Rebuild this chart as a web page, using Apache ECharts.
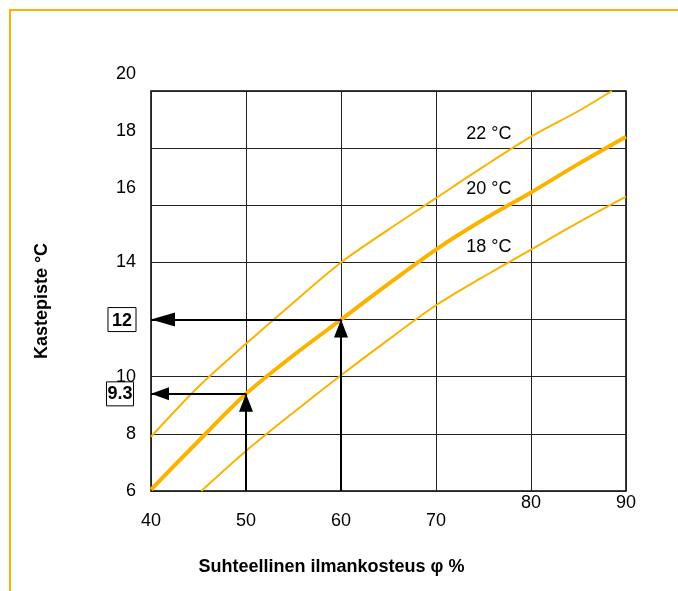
<!DOCTYPE html>
<html>
<head>
<meta charset="utf-8">
<script src="https://cdn.jsdelivr.net/npm/echarts@6/dist/echarts.min.js"></script>
<style>
  html, body { margin: 0; padding: 0; background: #fff; }
  #main { width: 678px; height: 591px; }
</style>
</head>
<body>
<div id="main"></div>
<script>
// relative humidity (%) -> dew point (°C) for three air temperatures
var rh = [40, 45, 50, 55, 60, 65, 70, 75, 80, 85, 90];
var rh22 = [40, 45, 50, 55, 60, 65, 70, 75, 80, 85, 88.5];
var rh18 = [45.3, 50, 55, 60, 65, 70, 75, 80, 85, 90];
var dew22 = [7.9, 9.65, 11.15, 12.6, 14.0, 15.15, 16.25, 17.35, 18.4, 19.3, 20];
var dew20 = [6.05, 7.75, 9.4, 10.75, 12.0, 13.25, 14.45, 15.5, 16.45, 17.45, 18.4];
var dew18 = [6.0, 7.4, 8.75, 10.05, 11.3, 12.5, 13.5, 14.45, 15.4, 16.3];
var curveNames = ['22 °C', '20 °C', '18 °C'];
var labelAt = 80; // curve labels sit left of this humidity
// worked examples: humidity -> dew point, with the value printed on the axis
var examples = [[50, 9.4, '9.3'], [60, 12, '12']];

var FONT = "'Liberation Sans', Arial, sans-serif";
var ORANGE = '#FBB300';

function pairs(xs, ys) {
  return xs.map(function (x, i) { return [x, ys[i]]; });
}

var myChart = echarts.init(document.getElementById('main'));

var allX = [rh22, rh, rh18];
var allY = [dew22, dew20, dew18];

var series = allY.map(function (ys, k) {
  var xs = allX[k];
  var idx = xs.indexOf(labelAt);
  return {
    name: curveNames[k],
    type: 'line',
    smooth: 0.3,
    showSymbol: false,
    data: pairs(xs, ys),
    lineStyle: { color: ORANGE, width: k === 1 ? 4 : 2 },
    markPoint: {
      symbol: 'rect',
      symbolSize: 1,
      itemStyle: { color: 'rgba(0,0,0,0)' },
      silent: true,
      label: {
        show: true, position: 'left', distance: 19, offset: [0, -3],
        formatter: curveNames[k], color: '#000', fontSize: 18, fontFamily: FONT
      },
      data: [{ coord: [labelAt, ys[idx]] }]
    }
  };
});

// arrows for the worked examples
var shafts = [];
var heads = [];
examples.forEach(function (e, i) {
  var big = i === 1;
  shafts.push([{ coord: [e[0], 6] }, { coord: [e[0], e[1]] }]);
  shafts.push([{ coord: [e[0], e[1]] }, { coord: [40, e[1]] }]);
  heads.push({
    coord: [e[0], e[1]], symbol: 'triangle', symbolSize: [14, 18],
    symbolOffset: [0, 9], itemStyle: { color: '#000' }, label: { show: false }
  });
  heads.push({
    coord: [40, e[1]], symbol: 'triangle', symbolRotate: 90,
    symbolSize: big ? [14, 24] : [13, 18], symbolOffset: [big ? 12 : 9, 0],
    itemStyle: { color: '#000' }, label: { show: false }
  });
  if (!big) {
    heads.push({
      coord: [40, e[1]], symbol: 'rect', symbolSize: 1,
      itemStyle: { color: 'rgba(0,0,0,0)' },
      label: {
        show: true, position: 'left', distance: 17, formatter: e[2],
        color: '#000', fontSize: 18, fontWeight: 'bold', fontFamily: FONT,
        borderColor: '#000', borderWidth: 1, padding: [4, 1, 2, 1]
      }
    });
  }
});

series.push({
  type: 'line',
  data: [],
  silent: true,
  markLine: {
    symbol: ['none', 'none'],
    silent: true,
    label: { show: false },
    lineStyle: { color: '#000', width: 2, type: 'solid' },
    data: shafts
  },
  markPoint: { silent: true, data: heads }
});

myChart.setOption({
  animation: false,
  graphic: [{
    type: 'polyline',
    shape: { points: [[10, 591], [10, 10], [678, 10]] },
    style: { stroke: ORANGE, lineWidth: 2, fill: null }
  }],
  grid: {
    left: 151, top: 91, width: 475, height: 400,
    show: true, borderColor: '#000', borderWidth: 1.5
  },
  xAxis: {
    type: 'value', min: 40, max: 90, interval: 10,
    name: 'Suhteellinen ilmankosteus φ %',
    nameLocation: 'middle', nameGap: 67,
    nameTextStyle: {
      color: '#000', fontSize: 18, fontWeight: 'bold', fontFamily: FONT,
      padding: [0, 114, 0, 0]
    },
    axisLine: { show: false },
    axisTick: { show: false },
    splitLine: { lineStyle: { color: '#222', width: 1 } },
    axisLabel: {
      margin: 3, color: '#000', fontSize: 18, fontFamily: FONT,
      formatter: function (v) { return v >= 80 ? '{hi|' + v + '}' : '{lo|' + v + '}'; },
      rich: {
        hi: { fontSize: 18, fontFamily: FONT, color: '#000' },
        lo: { fontSize: 18, fontFamily: FONT, color: '#000', padding: [18, 0, 0, 0] }
      }
    }
  },
  yAxis: {
    type: 'value', min: 6, max: 20, interval: 2,
    name: 'Kastepiste °C',
    nameLocation: 'middle', nameGap: 100, nameRotate: 90,
    nameTextStyle: {
      color: '#000', fontSize: 18, fontWeight: 'bold', fontFamily: FONT,
      padding: [0, 20, 0, 0]
    },
    axisLine: { show: false },
    axisTick: { show: false },
    splitLine: { lineStyle: { color: '#222', width: 1 } },
    axisLabel: {
      margin: 15, color: '#000', fontSize: 18, fontFamily: FONT,
      formatter: function (v) {
        if (v === 12) return '{box|12}';
        if (v >= 16) return '{up|' + v + '}';
        return '{n|' + v + '}';
      },
      rich: {
        n: { fontSize: 18, fontFamily: FONT, color: '#000' },
        up: { fontSize: 18, fontFamily: FONT, color: '#000', padding: [0, 0, 34, 0] },
        box: {
          fontSize: 18, fontFamily: FONT, color: '#000', fontWeight: 'bold',
          borderColor: '#000', borderWidth: 1, padding: [4, 4, 2, 4]
        }
      }
    }
  },
  series: series
});
</script>
</body>
</html>
